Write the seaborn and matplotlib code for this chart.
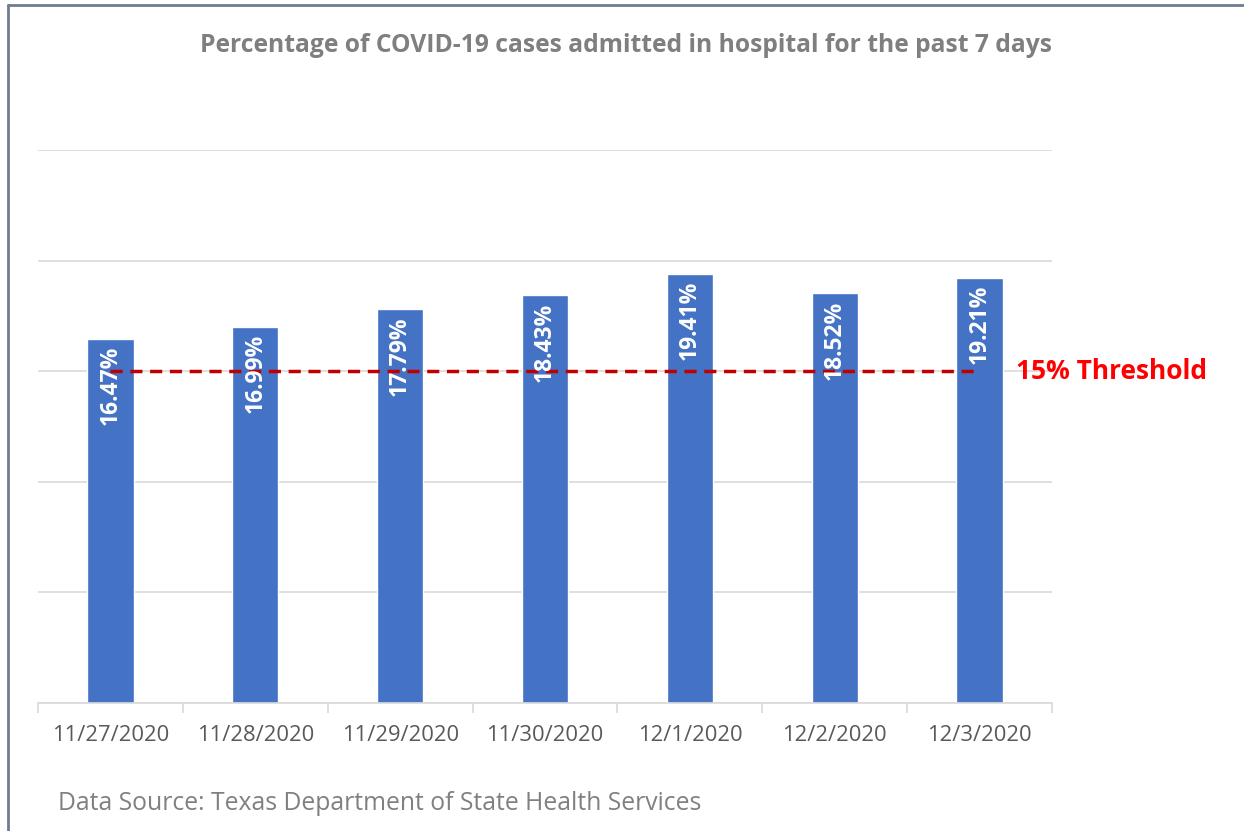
import numpy as np
import pandas as pd
import seaborn as sns
import matplotlib.pyplot as plt
from matplotlib.lines import Line2D
from matplotlib.ticker import FixedLocator

dates = ['11/27/2020', '11/28/2020', '11/29/2020', '11/30/2020',
         '12/1/2020', '12/2/2020', '12/3/2020']
pct_admitted = [16.47, 16.99, 17.79, 18.43, 19.41, 18.52, 19.21]
threshold = 15
y_gridlines = [0, 5, 10, 15, 20, 25]

df = pd.DataFrame({'Date': dates, 'Percent': pct_admitted})

sns.set_style('white')
plt.rcParams['font.family'] = ['Open Sans', 'DejaVu Sans']

fig = plt.figure(figsize=(12.44, 8.31), dpi=100)
ax = fig.add_axes([38 / 1244, 1 - 703 / 831, (1052 - 38) / 1244, (703 - 150) / 831])

sns.barplot(data=df, x='Date', y='Percent', color='#4472C4', width=0.32,
            saturation=1, ax=ax, zorder=2)

ax.set_ylim(0, 25)
ax.set_xlim(-0.5, len(dates) - 0.5)
ax.set_yticks(y_gridlines)
ax.set_yticklabels([])
ax.yaxis.grid(True, color='#d9d9d9', linewidth=1.2, zorder=0)
ax.set_axisbelow(True)
ax.tick_params(axis='y', length=0)
ax.set_xlabel('')
ax.set_ylabel('')
for s in ['top', 'right', 'left']:
    ax.spines[s].set_visible(False)
ax.spines['bottom'].set_color('#d9d9d9')
ax.spines['bottom'].set_linewidth(1.2)

# category boundary ticks
ax.xaxis.set_minor_locator(FixedLocator(np.arange(-0.5, len(dates), 1)))
ax.tick_params(axis='x', which='major', length=0, pad=16, labelsize=15.8,
               labelcolor='#595959')
ax.tick_params(axis='x', which='minor', length=7, color='#d9d9d9', width=1.2,
               direction='out', bottom=True)

# threshold line across bar centres
ax.plot([0, len(dates) - 1], [threshold, threshold], linestyle=(0, (3.5, 2.2)),
        color='#C00000', linewidth=2.5, zorder=3)
ax.text(len(dates) - 1 + 0.25, threshold, f'{threshold}% Threshold', color='#FF0000',
        fontsize=19, fontweight='bold', va='center', ha='left')

# value labels inside bars
for i, v in enumerate(pct_admitted):
    ax.annotate(f'{v:.2f}%', (i, v), xytext=(0, -5), textcoords='offset points',
                rotation=90, ha='center', va='top', color='white',
                fontsize=16.5, fontweight='bold', zorder=4)

fig.text(626 / 1244, 1 - 45 / 831,
         'Percentage of COVID-19 cases admitted in hospital for the past 7 days',
         ha='center', va='center', fontsize=17.7, fontweight='bold', color='#7f7f7f')
fig.text(58 / 1244, 1 - 803 / 831,
         'Data Source: Texas Department of State Health Services',
         ha='left', va='center', fontsize=17.8, color='#808080')

# frame
fig.add_artist(Line2D([8 / 1244, 8 / 1244], [0, 1 - 5 / 831], color='#6f7b91',
                      linewidth=2, transform=fig.transFigure))
fig.add_artist(Line2D([8 / 1244, 1], [1 - 5 / 831, 1 - 5 / 831], color='#6f7b91',
                      linewidth=2, transform=fig.transFigure))

fig.savefig('out.png', dpi=100, facecolor='white')
